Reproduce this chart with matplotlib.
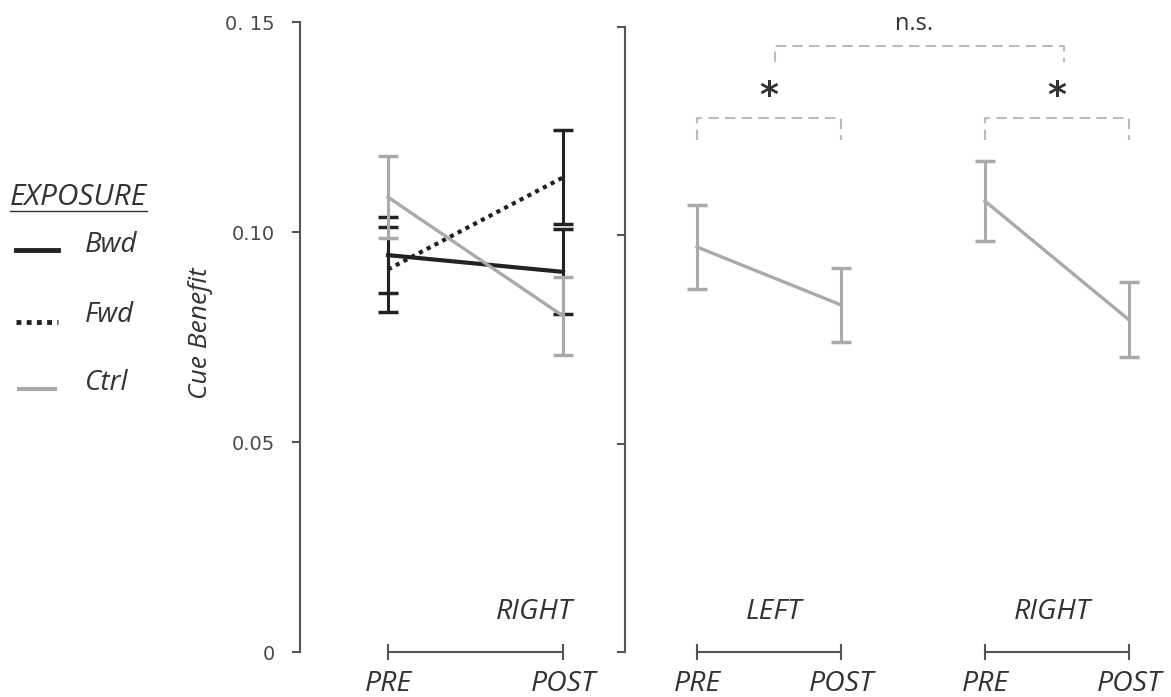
import matplotlib
matplotlib.use('Agg')
import matplotlib.pyplot as plt
from matplotlib.lines import Line2D

plt.rcParams['font.family'] = ['Open Sans', 'DejaVu Sans']

# ---- data ----
phases = ['PRE', 'POST']
groups = ['Bwd', 'Fwd', 'Ctrl']

# left panel: RIGHT side, three exposure groups
bwd_mean = [0.0945, 0.0905]
bwd_err = [0.0091, 0.0101]
fwd_mean = [0.0911, 0.1130]
fwd_err = [0.0102, 0.0112]
ctrl_mean = [0.1083, 0.0800]
ctrl_err = [0.0098, 0.0093]

# right panel: Ctrl, LEFT and RIGHT sides
side_labels = ['LEFT', 'RIGHT']
left_mean = [0.0972, 0.0833]
left_err = [0.0101, 0.0089]
right_mean = [0.1082, 0.0797]
right_err = [0.0096, 0.0090]

yticks = [0, 0.05, 0.10, 0.15]
ytick_labels = ['0', '0.05', '0.10', '0. 15']

# ---- style ----
BLACK = '#222222'
GRAY = '#aaaaaa'
AXIS = '#555555'
TEXT = '#333333'
BRACKET = '#bbbbbb'

W, H = 1171, 697
fig = plt.figure(figsize=(W / 100, H / 100), dpi=100)

ax1 = fig.add_axes([300 / W, 45 / H, 300 / W, 630 / H])
ax2 = fig.add_axes([625 / W, 45 / H, 535 / W, 625 / H])

for ax in (ax1, ax2):
    ax.set_facecolor('none')
    for s in ('top', 'right', 'bottom'):
        ax.spines[s].set_visible(False)
    ax.spines['left'].set_color(AXIS)
    ax.spines['left'].set_linewidth(1.5)
    ax.set_ylim(0, 0.15)
    ax.set_yticks(yticks)
    ax.tick_params(axis='y', direction='out', length=6, width=1.5, color=AXIS)
    ax.tick_params(axis='x', length=0, pad=13)

ax1.set_xlim(-0.503, 1.211)
ax2.set_xlim(-0.5, 3.215)

ax1.set_yticklabels(ytick_labels, fontsize=14, color='#4a4a4a', family='DejaVu Sans')
ax1.tick_params(axis='y', pad=12)
ax2.set_yticklabels([])

lbl_font = dict(fontsize=20.5, style='italic', color=TEXT)

# x axis segments with end caps
def xsegment(ax, x0, x1):
    ax.plot([x0, x1], [0, 0], color=AXIS, lw=1.5, marker='|', markersize=12,
            markeredgewidth=1.5, clip_on=False, zorder=1)

xs = [0, 1]
xsegment(ax1, xs[0], xs[1])
ax1.set_xticks(xs)
ax1.set_xticklabels(phases, **lbl_font)

# left panel series
eb = dict(capsize=7, capthick=2.5, elinewidth=2.2)
ax1.errorbar(xs, bwd_mean, yerr=bwd_err, color=BLACK, lw=3, zorder=3, **eb)
ax1.errorbar(xs, fwd_mean, yerr=fwd_err, color=BLACK, lw=3, ls=(0, (1, 1.1)),
             zorder=3, **eb)
ax1.errorbar(xs, ctrl_mean, yerr=ctrl_err, color=GRAY, lw=2.4, zorder=4, **eb)
ax1.text(0.834, 0.0095, 'RIGHT', ha='center', va='center', **lbl_font)

ax1.set_ylabel('Cue Benefit', fontsize=19, style='italic', color=TEXT)
ax1.yaxis.set_label_coords(-0.29, 0.506)

# right panel
xl = [0, 1]
xr = [2, 3]
xsegment(ax2, xl[0], xl[1])
xsegment(ax2, xr[0], xr[1])
ax2.set_xticks(xl + xr)
ax2.set_xticklabels(phases + phases, **lbl_font)
ax2.errorbar(xl, left_mean, yerr=left_err, color=GRAY, lw=2.4, **eb)
ax2.errorbar(xr, right_mean, yerr=right_err, color=GRAY, lw=2.4, **eb)
ax2.text(0.535, 0.0096, side_labels[0], ha='center', va='center', **lbl_font)
ax2.text(2.465, 0.0096, side_labels[1], ha='center', va='center', **lbl_font)

# significance brackets
def bracket(ax, x0, x1, y_low, y_high):
    ax.plot([x0, x0, x1, x1], [y_low, y_high, y_high, y_low], color=BRACKET,
            lw=1.5, ls=(0, (5, 3)), clip_on=False)

bracket(ax2, 0, 1, 0.1229, 0.1282)
bracket(ax2, 2, 3, 0.1229, 0.1282)
bracket(ax2, 0.54, 2.55, 0.1416, 0.1454)
ax2.text(0.5, 0.1335, '*', ha='center', va='center', fontsize=26, color=TEXT,
         family='DejaVu Sans', weight='bold')
ax2.text(2.5, 0.1335, '*', ha='center', va='center', fontsize=26, color=TEXT,
         family='DejaVu Sans', weight='bold')
ax2.text(1.51, 0.1508, 'n.s.', ha='center', va='center', fontsize=17, color=TEXT,
         clip_on=False)

# legend drawn in figure pixels
def fx(x):
    return x / W

def fy(y):
    return 1 - y / H

fig.text(fx(10), fy(205), 'EXPOSURE', fontsize=21.5, style='italic', color=TEXT,
         ha='left', va='baseline')
fig.add_artist(Line2D([fx(10), fx(147)], [fy(211), fy(211)], color=TEXT, lw=1))
leg_styles = [dict(color=BLACK, ls='-', lw=3.5),
              dict(color=BLACK, ls=(0, (1, 1.1)), lw=3.5),
              dict(color=GRAY, ls='-', lw=3)]
leg_x = [(16, 58), (16, 58), (19, 55)]
leg_y = [250, 322, 389]
text_y = [245, 315, 383]
for name, st, lx, ly, ty in zip(groups, leg_styles, leg_x, leg_y, text_y):
    fig.add_artist(Line2D([fx(lx[0]), fx(lx[1])], [fy(ly), fy(ly)], **st))
    fig.text(fx(85), fy(ty), name, fontsize=20, style='italic', color=TEXT,
             ha='left', va='center')

fig.savefig('out.png', dpi=100)
